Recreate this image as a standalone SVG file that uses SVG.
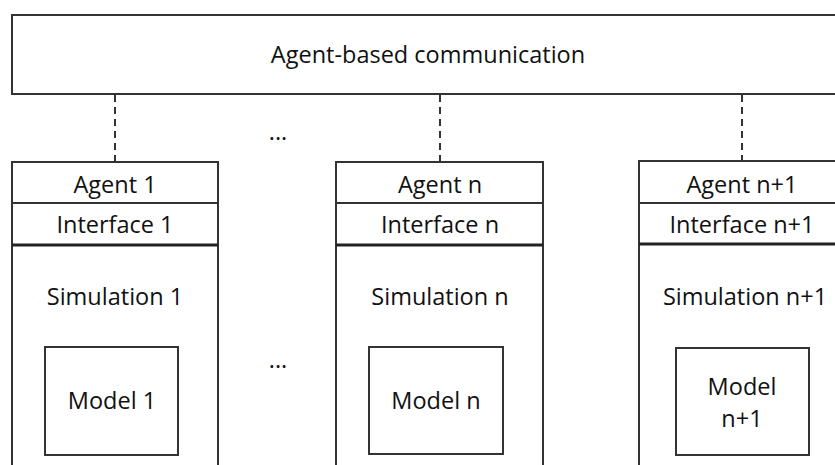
<svg xmlns="http://www.w3.org/2000/svg" width="835" height="465" viewBox="0 0 835 465">
<style>
.box{fill:#fff;stroke:#333;stroke-width:2}
.div{stroke:#333;stroke-width:2}
.thick{stroke:#222;stroke-width:3}
.dash{stroke:#333;stroke-width:2;stroke-dasharray:7 5;fill:none}
text{font-family:"Open Sans","Noto Sans",sans-serif;font-size:23.5px;fill:#111;text-anchor:middle}
</style>
<rect width="835" height="465" fill="#fff"/>
<g id="comm">
<rect class="box" x="12" y="15" width="840" height="79"/>
<text x="428" y="63">Agent-based communication</text>
</g>
<g id="connectors">
<line class="dash" x1="115" y1="95" x2="115" y2="161"/>
<line class="dash" x1="440" y1="95" x2="440" y2="161"/>
<line class="dash" x1="742" y1="95" x2="742" y2="161"/>
</g>
<g id="dots">
<text x="278" y="140">...</text>
<text x="278" y="368">...</text>
</g>
<g id="node1">
<rect class="box" x="12" y="162" width="206" height="320"/>
<line class="div" x1="12" y1="203" x2="218" y2="203"/>
<line class="thick" x1="12" y1="245" x2="218" y2="245"/>
<text x="115" y="193">Agent 1</text>
<text x="115" y="233">Interface 1</text>
<text x="115" y="305">Simulation 1</text>
<rect class="box" x="45" y="347" width="133" height="108"/>
<text x="112" y="409">Model 1</text>
</g>
<g id="noden">
<rect class="box" x="336" y="162" width="207" height="320"/>
<line class="div" x1="336" y1="203" x2="543" y2="203"/>
<line class="thick" x1="336" y1="245" x2="543" y2="245"/>
<text x="440" y="193">Agent n</text>
<text x="440" y="233">Interface n</text>
<text x="440" y="305">Simulation n</text>
<rect class="box" x="369" y="347" width="134" height="107"/>
<text x="436" y="409">Model n</text>
</g>
<g id="noden1">
<rect class="box" x="639" y="161" width="220" height="320"/>
<line class="div" x1="639" y1="203" x2="859" y2="203"/>
<line class="thick" x1="639" y1="244" x2="859" y2="244"/>
<text x="742" y="193">Agent n+1</text>
<text x="742" y="233">Interface n+1</text>
<text x="745" y="305">Simulation n+1</text>
<rect class="box" x="676" y="348" width="133" height="107"/>
<text x="742" y="395">Model</text>
<text x="742" y="427">n+1</text>
</g>
</svg>
